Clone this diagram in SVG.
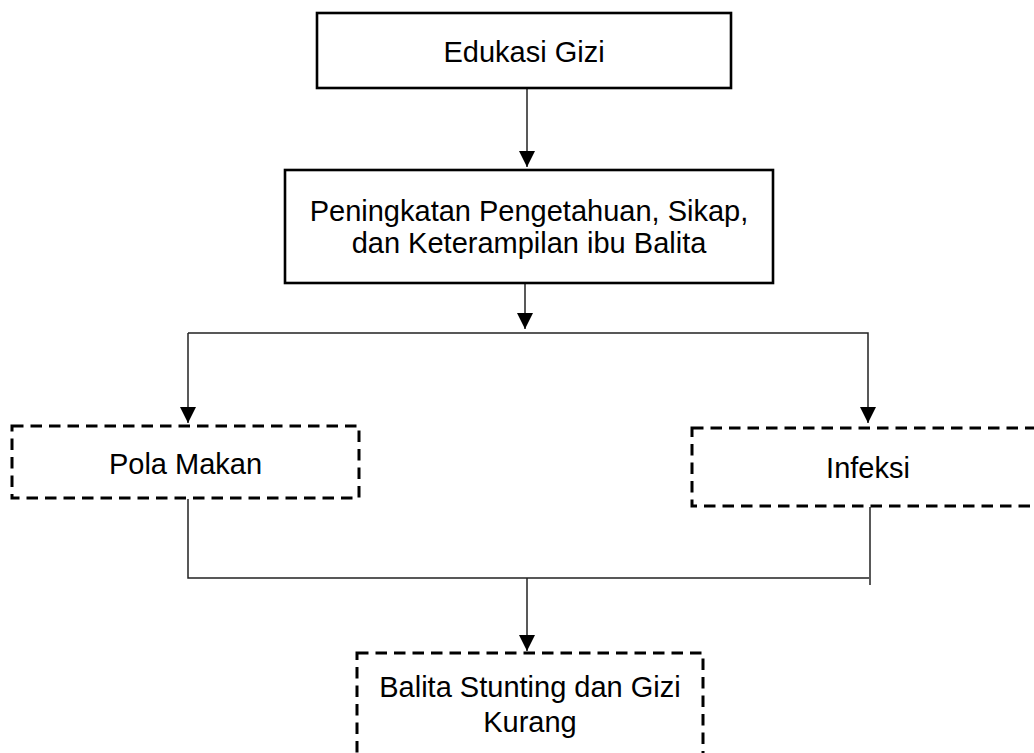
<svg xmlns="http://www.w3.org/2000/svg" width="1034" height="753" viewBox="0 0 1034 753">
<defs>
<style>
.solid{fill:#fff;stroke:#000;stroke-width:2.6}
.dash{fill:#fff;stroke:#000;stroke-width:3;stroke-dasharray:11.5 7}
.t{font-family:"Liberation Sans",Arial,sans-serif;font-size:29px;fill:#000;text-anchor:middle}
.c{fill:none;stroke:#222;stroke-width:1.5}
</style>
<marker id="ah" markerWidth="16" markerHeight="16" viewBox="0 0 16 16" refX="16" refY="8" orient="auto" markerUnits="userSpaceOnUse">
<path d="M0,0 L16,8 L0,16 Z" fill="#000"/>
</marker>
</defs>
<rect width="1034" height="753" fill="#fff"/>
<g id="connectors">
<line class="c" x1="527" y1="89" x2="527" y2="167" marker-end="url(#ah)"/>
<line class="c" x1="525" y1="284" x2="525" y2="329" marker-end="url(#ah)"/>
<polyline class="c" points="188,333 868,333 868,423" marker-end="url(#ah)"/>
<line class="c" x1="188" y1="333" x2="188" y2="423" marker-end="url(#ah)"/>
<polyline class="c" points="188,499 188,578 869,578"/>
<line class="c" x1="870" y1="507" x2="870" y2="585"/>
<line class="c" x1="527" y1="578" x2="527" y2="651" marker-end="url(#ah)"/>
</g>
<g id="node-edukasi">
<rect class="solid" x="317" y="13" width="414" height="75"/>
<text class="t" x="524" y="62">Edukasi Gizi</text>
</g>
<g id="node-peningkatan">
<rect class="solid" x="285" y="170" width="488" height="113"/>
<text class="t" x="529" y="221">Peningkatan Pengetahuan, Sikap,</text>
<text class="t" x="529" y="253">dan Keterampilan ibu Balita</text>
</g>
<g id="node-pola">
<rect class="dash" x="12" y="426" width="347" height="72"/>
<text class="t" x="185.5" y="474">Pola Makan</text>
</g>
<g id="node-infeksi">
<rect class="dash" x="692" y="428" width="352" height="78"/>
<text class="t" x="868" y="478">Infeksi</text>
</g>
<g id="node-balita">
<rect class="dash" x="357" y="653" width="346" height="120"/>
<text class="t" x="530" y="697">Balita Stunting dan Gizi</text>
<text class="t" x="530" y="732">Kurang</text>
</g>
</svg>
